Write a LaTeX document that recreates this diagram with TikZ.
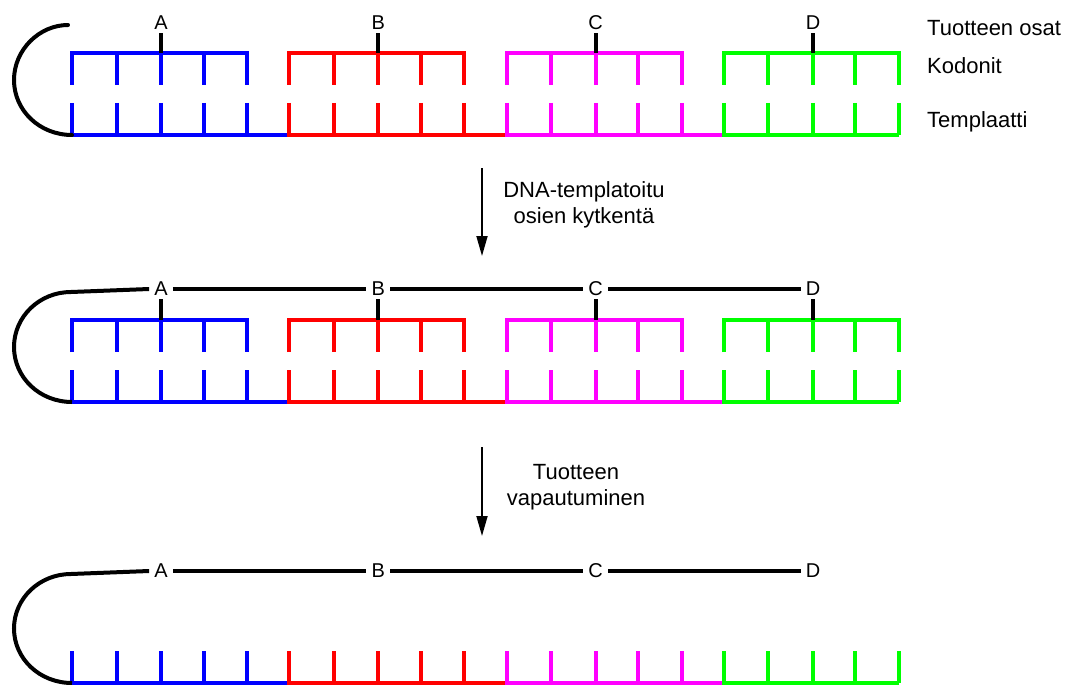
\documentclass[tikz,border=0pt]{standalone}
\usepackage{fontspec}
\setmainfont{Liberation Sans}
\usetikzlibrary{arrows.meta}
\definecolor{cblue}{RGB}{0,0,255}
\definecolor{cred}{RGB}{255,0,0}
\definecolor{cmag}{RGB}{255,0,255}
\definecolor{cgreen}{RGB}{0,255,0}
% codon part: x start, colour, y of top bar
\newcommand{\codonpart}[3]{%
  \draw[strand,#2,line join=miter] (#1,#3+32) -- (#1,#3) -- (#1+175,#3) -- (#1+175,#3+32);
  \foreach \dx in {44.5,89,131.5} \draw[strand,#2] (#1+\dx,#3) -- (#1+\dx,#3+32);
}
% template part: x start, colour, y of bottom bar, bar length
\newcommand{\templpart}[4]{%
  \draw[strand,#2,line join=miter] (#1,#3-32) -- (#1,#3) -- (#1+#4,#3);
  \foreach \dx in {44.5,89,131.5,175} \draw[strand,#2] (#1+\dx,#3-32) -- (#1+\dx,#3);
}
\begin{document}
\begin{tikzpicture}[x=1pt,y=-1pt,
  strand/.style={line width=4pt},
  lab/.style={font=\fontsize{20}{24}\selectfont, inner xsep=5pt, inner ysep=3pt},
  side/.style={font=\fontsize{22}{26}\selectfont, anchor=base west, inner sep=0pt},
  note/.style={font=\fontsize{22}{26}\selectfont, align=center, inner sep=0pt},
  steparrow/.style={line width=1.8pt, -{Triangle[length=20pt,width=11pt]}},
]
\useasboundingbox (0,0) rectangle (1072,685);

% ---------- blocks ----------
\foreach \i/\c in {0/cblue,1/cred,2/cmag,3/cgreen} {
  \pgfmathsetmacro\bx{72+217.33*\i}
  \pgfmathsetmacro\bl{\i==3 ? 175 : 217.33}
  \codonpart{\bx}{\c}{53}
  \templpart{\bx}{\c}{135}{\bl}
  \codonpart{\bx}{\c}{320}
  \templpart{\bx}{\c}{402}{\bl}
  \templpart{\bx}{\c}{683}{\bl}
}

% ---------- labels A-D ----------
\foreach \i/\L in {0/A,1/B,2/C,3/D} {
  \pgfmathsetmacro\lx{72+217.33*\i+89}
  \node[lab] (t\L) at (\lx,23) {\L};
  \coordinate (tk\L) at (\lx,53);
  \draw[strand] (t\L.south) -- (tk\L);
  \node[lab] (m\L) at (\lx,289) {\L};
  \coordinate (mk\L) at (\lx,320);
  \draw[strand] (m\L.south) -- (mk\L);
  \node[lab] (b\L) at (\lx,571) {\L};
}

% ---------- black strands ----------
\draw[strand,line cap=round] (68,25) .. controls (39.5,25) and (14,49.6) .. (14,80)
  .. controls (14,110.4) and (39.5,135) .. (72,135);
\draw[strand] (mA.west) -- (71,292) .. controls (39.5,292) and (14,316.6) .. (14,347)
  .. controls (14,377.4) and (39.5,402) .. (72,402);
\draw[strand] (mA.east) -- (mB.west);
\draw[strand] (mB.east) -- (mC.west);
\draw[strand] (mC.east) -- (mD.west);
\draw[strand] (bA.west) -- (71,574) .. controls (39.5,574) and (14,598.4) .. (14,628.5)
  .. controls (14,658.6) and (39.5,683) .. (72,683);
\draw[strand] (bA.east) -- (bB.west);
\draw[strand] (bB.east) -- (bC.west);
\draw[strand] (bC.east) -- (bD.west);

% ---------- side labels ----------
\node[side] (s1) at (927,36) {Tuotteen osat};
\node[side] (s2) at (927,74) {Kodonit};
\node[side] (s3) at (927,128) {Templaatti};

% ---------- arrows ----------
\coordinate (a1s) at (482,168);
\coordinate (a1e) at (482,256);
\draw[steparrow] (a1s) -- (a1e);
\node[note] (n1) at (584,204.5) {DNA-templatoitu\\osien kytkentä};
\coordinate (a2s) at (482,447);
\coordinate (a2e) at (482,536);
\draw[steparrow] (a2s) -- (a2e);
\node[note] (n2) at (576,487) {Tuotteen\\vapautuminen};
\end{tikzpicture}
\end{document}
